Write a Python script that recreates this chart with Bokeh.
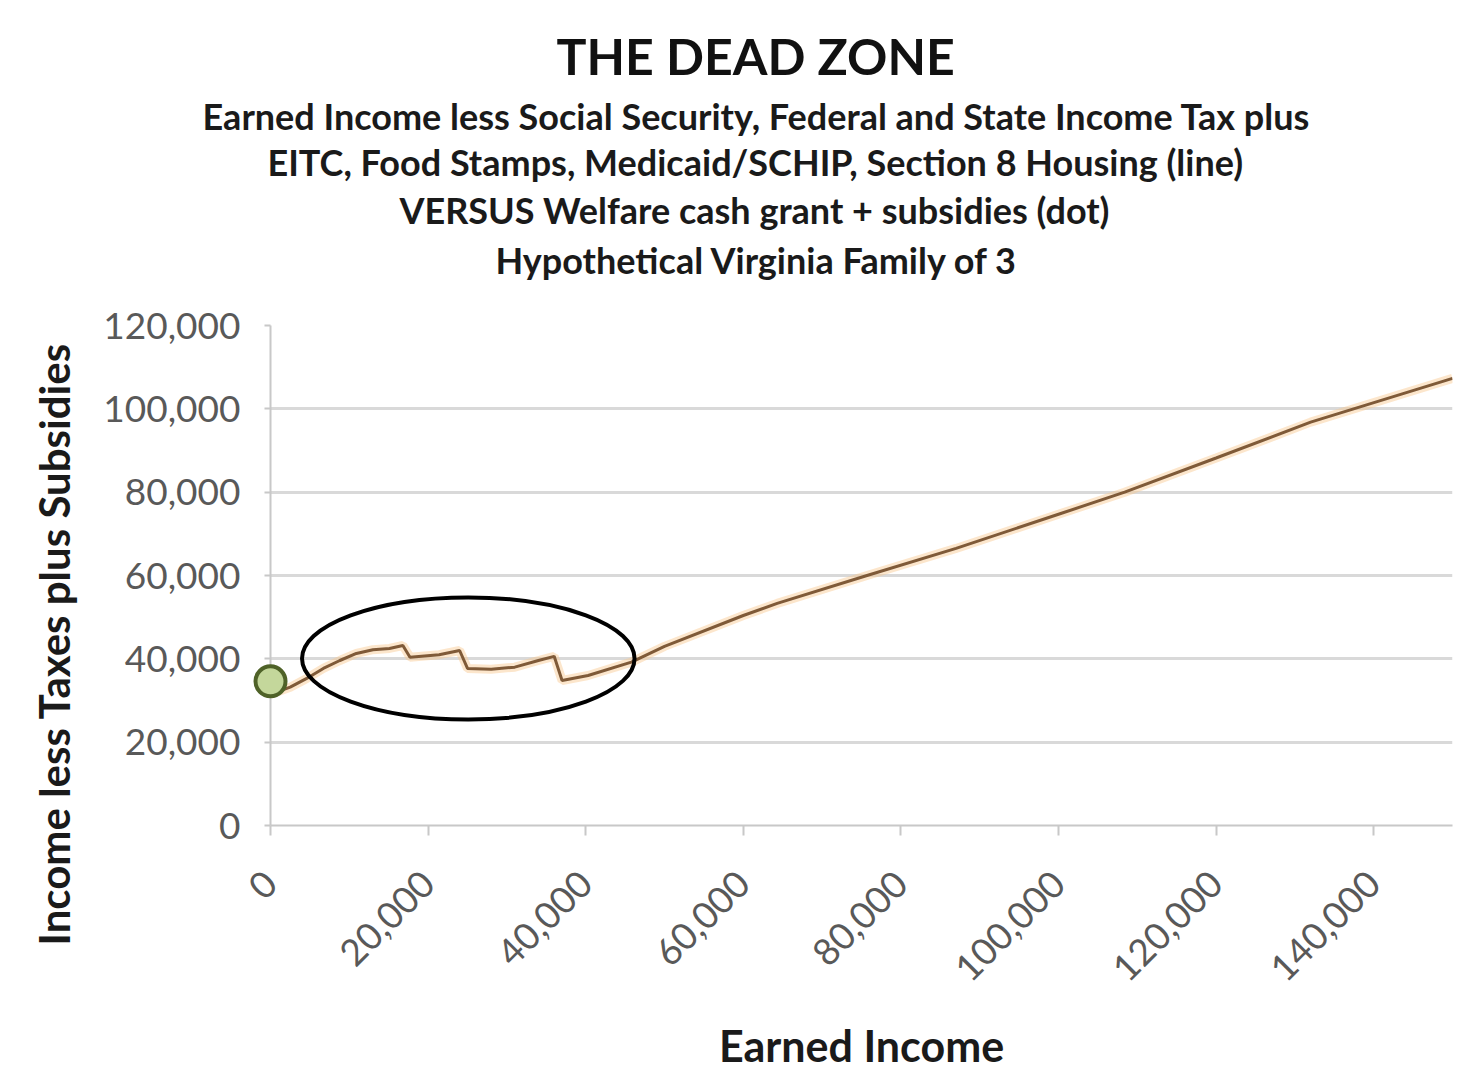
from bokeh.plotting import figure
from bokeh.models import Title, NumeralTickFormatter, FixedTicker, Range1d
from bokeh.embed import file_html
from bokeh.resources import INLINE
import math

# ---- data ----
earned_income = [0, 2500, 4600, 6700, 8800, 10900, 13000, 15100, 16800, 17700, 21400, 24000,
                 25000, 28000, 31000, 34000, 36000, 37000, 40300, 45800, 50000, 60000,
                 64300, 75700, 87000, 100000, 108400, 120000, 132000, 150000]
net_income = [31500, 33200, 35300, 37700, 39600, 41300, 42200, 42500, 43200, 40400, 41000, 42000,
              37700, 37500, 38000, 39600, 40600, 34800, 36000, 39200, 43000, 50400,
              53300, 60000, 66500, 74700, 80000, 88200, 96800, 107300]

welfare_x = [0]
welfare_y = [34600]

# dead-zone highlight (center x, center y, width, height in data units)
zone_x = [25100]
zone_y = [40100]
zone_w = [42200]
zone_h = [29300]

x_ticks = [0, 20000, 40000, 60000, 80000, 100000, 120000, 140000]
y_ticks = [0, 20000, 40000, 60000, 80000, 100000, 120000]

title_text = "THE DEAD ZONE"
subtitle_lines = [
    "Earned Income less Social Security, Federal and State Income Tax plus",
    "EITC, Food Stamps, Medicaid/SCHIP, Section 8 Housing (line)",
    "VERSUS Welfare cash grant + subsidies (dot)",
    "Hypothetical Virginia Family of 3",
]
x_label = "Earned Income"
y_label = "Income less Taxes plus Subsidies"

FONT = "Lato"

# layout constants (pixels)
W, H = 1462, 1075
LEFT, RIGHT, TOP, BOTTOM = 270, 10, 325, 250

p = figure(width=W, height=H, output_backend="svg", toolbar_location=None,
           x_range=Range1d(0, 150000), y_range=Range1d(0, 120000),
           min_border_left=LEFT, min_border_right=RIGHT, min_border_top=TOP,
           min_border_bottom=BOTTOM)

p.background_fill_color = "white"
p.border_fill_color = "white"
p.outline_line_color = None

# ---- title block (stacked upward from the plot frame) ----
# spacer between frame and last subtitle line
p.add_layout(Title(text=" ", text_font_size="10px", standoff=28), "above")
# offsets put the (left-aligned) lines centred on the chart, not on the frame
sub_offsets = [-68, -3, 129, 225]
sub_standoffs = [0, 1, 2, 6]
for line, off, so in reversed(list(zip(subtitle_lines, sub_offsets, sub_standoffs))):
    p.add_layout(Title(text=line, align="left", offset=off, standoff=so,
                       text_font=FONT, text_font_size="36px", text_font_style="bold",
                       text_color="#1a1a1a"), "above")
p.add_layout(Title(text=title_text, align="left", offset=286, standoff=11,
                   text_font=FONT, text_font_size="50px", text_font_style="bold",
                   text_color="#111111"), "above")

# grid
p.xgrid.grid_line_color = None
p.ygrid.grid_line_color = "#d9d9d9"
p.ygrid.grid_line_width = 3
p.ygrid.ticker = FixedTicker(ticks=y_ticks)

# axes
p.xaxis.ticker = FixedTicker(ticks=x_ticks)
p.yaxis.ticker = FixedTicker(ticks=y_ticks)
p.xaxis.formatter = NumeralTickFormatter(format="0,0")
p.yaxis.formatter = NumeralTickFormatter(format="0,0")
p.xaxis.major_label_orientation = math.pi / 4
for ax in (p.xaxis, p.yaxis):
    ax.axis_line_color = "#c8c8c8"
    ax.axis_line_width = 2
    ax.major_tick_line_color = "#c8c8c8"
    ax.major_tick_line_width = 2
    ax.minor_tick_line_color = None
    ax.major_tick_in = 0
    ax.major_label_text_font = FONT
    ax.major_label_text_font_size = "37px"
    ax.major_label_text_color = "#595959"
p.xaxis.major_tick_out = 10
p.yaxis.major_tick_out = 6
p.xaxis.major_label_standoff = 42
p.yaxis.major_label_standoff = 24
p.xaxis.axis_label = x_label
p.xaxis.axis_label_text_font = FONT
p.xaxis.axis_label_text_font_style = "bold"
p.xaxis.axis_label_text_color = "#1a1a1a"
p.xaxis.axis_label_text_font_size = "43px"
p.xaxis.axis_label_standoff = 24

# y-axis title drawn as a side title so it can sit lower than the frame centre
p.add_layout(Title(text=y_label, align="left", offset=-120, standoff=44,
                   text_font=FONT, text_font_size="42px", text_font_style="bold",
                   text_color="#1a1a1a"), "left")

# line with soft orange glow
p.line(earned_income, net_income, line_color="#f9c78f", line_width=9, line_alpha=0.45)
p.line(earned_income, net_income, line_color="#7f5a38", line_width=3)

# welfare dot
dot = p.scatter(welfare_x, welfare_y, size=30, fill_color="#c4d79b", line_color="#4f6228",
                line_width=4)
dot.level = "overlay"

# dead zone ellipse
p.ellipse(x=zone_x, y=zone_y, width=zone_w, height=zone_h, fill_color=None,
          line_color="black", line_width=4)

open("out.html", "w").write(file_html(p, INLINE))
